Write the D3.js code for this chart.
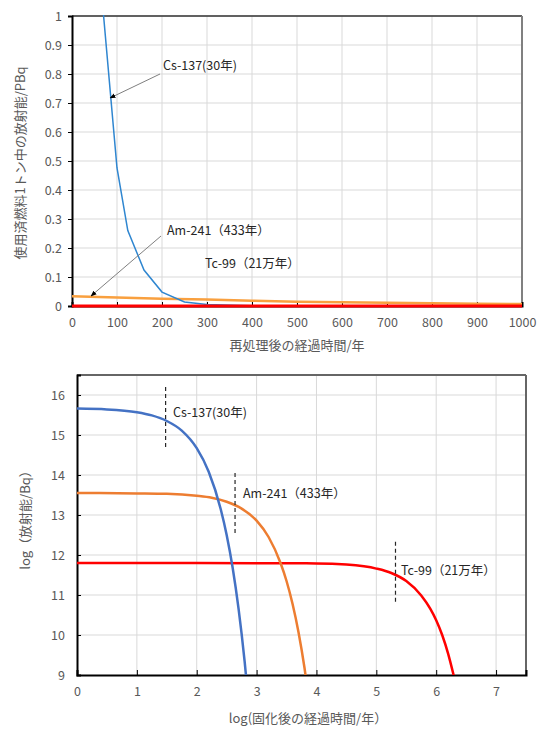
<!DOCTYPE html>
<html>
<head>
<meta charset="utf-8">
<script src="https://cdn.jsdelivr.net/npm/d3@7"></script>
<style>
  body { margin: 0; background: #fff; }
  text { font-family: "Noto Sans CJK JP", "Noto Sans", sans-serif; }
</style>
</head>
<body>
<svg width="544" height="729"></svg>
<script>
// ---- top chart data (linear, PBq per tonne of spent fuel) ----
const topYears   = [0, 100, 200, 300, 400, 500, 600, 700, 800, 900, 1000];
const topCsYears = [0, 30, 60, 100, 124, 160, 200, 250, 300, 400, 500, 700, 1000];
const topCsPBq   = [4.7, 2.35, 1.18, 0.476, 0.26, 0.124, 0.048, 0.014, 0.005, 0.0005, 0.0001, 0, 0];
const topAmPBq   = [0.034, 0.029, 0.025, 0.022, 0.018, 0.015, 0.013, 0.011, 0.0095, 0.008, 0.0068];
const topTcPBq   = [0.0003, 0.0003, 0.0003, 0.0003, 0.0003, 0.0003, 0.0003, 0.0003, 0.0003, 0.0003, 0.0003];
const topYTicks  = [0, 0.1, 0.2, 0.3, 0.4, 0.5, 0.6, 0.7, 0.8, 0.9, 1];

// ---- bottom chart data (log10 time vs log10 Bq) ----
const csLogT = [0, 0.5, 1, 1.25, 1.5, 1.75, 2, 2.2, 2.4, 2.5, 2.6, 2.7, 2.8, 2.85];
const csLogA = [15.66, 15.64, 15.57, 15.49, 15.35, 15.11, 14.67, 14.08, 13.15, 12.5, 11.68, 10.64, 9.34, 8.57];
const amLogT = [0, 1, 1.5, 2, 2.25, 2.5, 2.75, 3, 3.2, 3.4, 3.5, 3.6, 3.7, 3.8, 3.85];
const amLogA = [13.55, 13.54, 13.53, 13.48, 13.43, 13.33, 13.16, 12.86, 12.45, 11.8, 11.35, 10.78, 10.07, 9.18, 8.65];
const tcLogT = [0, 2, 4, 4.5, 5, 5.25, 5.5, 5.75, 5.9, 6, 6.1, 6.2, 6.3];
const tcLogA = [11.8, 11.8, 11.79, 11.76, 11.66, 11.55, 11.35, 10.99, 10.66, 10.37, 10.0, 9.53, 8.94];
const markLogT = [1.48, 2.64, 5.32];   // dashed half-life markers
const markTop  = [16.2, 14.05, 12.33];
const markBot  = [14.7, 12.55, 10.83];

const svg = d3.select("svg");
const grid = "#d9d9d9", txt = "#595959";

// marker for annotation arrows
svg.append("defs").append("marker")
  .attr("id", "arr").attr("viewBox", "0 0 10 10").attr("refX", 9).attr("refY", 5)
  .attr("markerWidth", 6).attr("markerHeight", 6).attr("orient", "auto")
  .append("path").attr("d", "M0,1 L10,5 L0,9 z").attr("fill", "#000");

// ================= top chart =================
const t = { l: 72, r: 522, t: 16, b: 306 };
const tx = d3.scaleLinear().domain([0, 1000]).range([t.l, t.r]);
const ty = d3.scaleLinear().domain([0, 1]).range([t.b, t.t]);

svg.append("clipPath").attr("id", "clipT").append("rect")
  .attr("x", t.l).attr("y", t.t - 1).attr("width", t.r - t.l).attr("height", t.b - t.t + 3);

const gT = svg.append("g");
gT.selectAll(".vg").data(topYears.slice(1, -1)).enter().append("line")
  .attr("x1", d => tx(d)).attr("x2", d => tx(d)).attr("y1", t.t).attr("y2", t.b)
  .attr("stroke", grid);
gT.selectAll(".hg").data(topYTicks.slice(1)).enter().append("line")
  .attr("x1", t.l).attr("x2", t.r).attr("y1", d => ty(d)).attr("y2", d => ty(d))
  .attr("stroke", grid);
gT.append("line").attr("x1", t.l).attr("x2", t.r).attr("y1", t.t).attr("y2", t.t)
  .attr("stroke", "#333").attr("stroke-width", 1.5);
gT.append("line").attr("x1", t.r).attr("x2", t.r).attr("y1", t.t).attr("y2", t.b)
  .attr("stroke", "#808080").attr("stroke-width", 2);

const yAxT = gT.append("g").attr("transform", `translate(${t.l},0)`)
  .call(d3.axisLeft(ty).tickValues(topYTicks).tickSize(4).tickPadding(6).tickFormat(d3.format("~g")));
const xAxT = gT.append("g").attr("transform", `translate(0,${t.b})`)
  .call(d3.axisBottom(tx).tickValues(topYears).tickSize(-4).tickPadding(12).tickFormat(d3.format("d")));
[yAxT, xAxT].forEach(a => {
  a.select(".domain").attr("stroke", "#000").attr("stroke-width", 2);
  a.selectAll(".tick line").attr("stroke", "#000");
  a.selectAll("text").attr("fill", txt).attr("font-size", 12.5);
});

const lineT = (xs, ys) => d3.line().x((d, i) => tx(xs[i])).y(d => ty(d))(ys);
const plotT = gT.append("g").attr("clip-path", "url(#clipT)");
plotT.append("path").attr("d", lineT(topYears, topAmPBq))
  .attr("fill", "none").attr("stroke", "#f9a03f").attr("stroke-width", 2.5);
plotT.append("path").attr("d", lineT(topCsYears, topCsPBq))
  .attr("fill", "none").attr("stroke", "#2f86d0").attr("stroke-width", 1.5);
plotT.append("path").attr("d", lineT(topYears, topTcPBq))
  .attr("fill", "none").attr("stroke", "#ff0000").attr("stroke-width", 3);

gT.append("text").attr("x", 297).attr("y", 350).attr("text-anchor", "middle")
  .attr("fill", txt).attr("font-size", 13).text("再処理後の経過時間/年");
gT.append("text").attr("transform", "translate(25,163) rotate(-90)").attr("text-anchor", "middle")
  .attr("fill", txt).attr("font-size", 13).text("使用済燃料1トン中の放射能/PBq");

// annotations
gT.append("line").attr("x1", 160).attr("y1", 74).attr("x2", 110).attr("y2", 98)
  .attr("stroke", "#7f7f7f").attr("marker-end", "url(#arr)");
gT.append("line").attr("x1", 161).attr("y1", 236).attr("x2", 91).attr("y2", 296)
  .attr("stroke", "#7f7f7f").attr("marker-end", "url(#arr)");
gT.append("text").attr("x", 163).attr("y", 70).attr("font-size", 12.5).attr("fill", "#262626").text("Cs-137(30年)");
gT.append("text").attr("x", 167).attr("y", 235).attr("font-size", 12.5).attr("fill", "#262626").text("Am-241（433年）");
gT.append("text").attr("x", 205).attr("y", 268).attr("font-size", 12.5).attr("fill", "#262626").text("Tc-99（21万年）");

// ================= bottom chart =================
const b = { l: 77, r: 526, t: 375, b: 675 };
const bx = d3.scaleLinear().domain([0, 7.5]).range([b.l, b.r]);
const by = d3.scaleLinear().domain([9, 16.5]).range([b.b, b.t]);
const bxTicks = [0, 1, 2, 3, 4, 5, 6, 7];
const byTicks = [9, 10, 11, 12, 13, 14, 15, 16];

svg.append("clipPath").attr("id", "clipB").append("rect")
  .attr("x", b.l).attr("y", b.t).attr("width", b.r - b.l).attr("height", b.b - b.t);

const gB = svg.append("g");
gB.selectAll(".vg").data(bxTicks.slice(1)).enter().append("line")
  .attr("x1", d => bx(d)).attr("x2", d => bx(d)).attr("y1", b.t).attr("y2", b.b)
  .attr("stroke", grid);
gB.selectAll(".hg").data(byTicks.slice(1)).enter().append("line")
  .attr("x1", b.l).attr("x2", b.r).attr("y1", d => by(d)).attr("y2", d => by(d))
  .attr("stroke", grid);
gB.append("line").attr("x1", b.l).attr("x2", b.r).attr("y1", b.t).attr("y2", b.t)
  .attr("stroke", "#666").attr("stroke-width", 2);
gB.append("line").attr("x1", b.r).attr("x2", b.r).attr("y1", b.t).attr("y2", b.b)
  .attr("stroke", "#666").attr("stroke-width", 2);

const yAxB = gB.append("g").attr("transform", `translate(${b.l},0)`)
  .call(d3.axisLeft(by).tickValues(byTicks).tickSize(-4).tickPadding(12));
const xAxB = gB.append("g").attr("transform", `translate(0,${b.b})`)
  .call(d3.axisBottom(bx).tickValues(bxTicks).tickSize(-5).tickPadding(12));
[yAxB, xAxB].forEach(a => {
  a.select(".domain").attr("stroke", "#000").attr("stroke-width", 2);
  a.selectAll(".tick line").attr("stroke", "#000");
  a.selectAll("text").attr("fill", txt).attr("font-size", 12.5);
});

const lineB = (xs, ys) => d3.line().curve(d3.curveMonotoneX).x((d, i) => bx(xs[i])).y(d => by(d))(ys);
const plotB = gB.append("g").attr("clip-path", "url(#clipB)");
plotB.append("path").attr("d", lineB(tcLogT, tcLogA))
  .attr("fill", "none").attr("stroke", "#ff0000").attr("stroke-width", 2.5);
plotB.append("path").attr("d", lineB(amLogT, amLogA))
  .attr("fill", "none").attr("stroke", "#ed7d31").attr("stroke-width", 2.5);
plotB.append("path").attr("d", lineB(csLogT, csLogA))
  .attr("fill", "none").attr("stroke", "#4472c4").attr("stroke-width", 2.5);

// dashed markers
gB.selectAll(".mk").data(markLogT).enter().append("line")
  .attr("x1", d => bx(d)).attr("x2", d => bx(d))
  .attr("y1", (d, i) => by(markTop[i])).attr("y2", (d, i) => by(markBot[i]))
  .attr("stroke", "#262626").attr("stroke-width", 1.2).attr("stroke-dasharray", "4,3");

gB.append("text").attr("x", 173).attr("y", 417).attr("font-size", 12.5).attr("fill", "#262626").text("Cs-137(30年)");
gB.append("text").attr("x", 243).attr("y", 498).attr("font-size", 12.5).attr("fill", "#262626").text("Am-241（433年）");
gB.append("text").attr("x", 401).attr("y", 575).attr("font-size", 12.5).attr("fill", "#262626").text("Tc-99（21万年）");

gB.append("text").attr("x", 308).attr("y", 723).attr("text-anchor", "middle")
  .attr("fill", txt).attr("font-size", 13).text("log(固化後の経過時間/年）");
gB.append("text").attr("transform", "translate(30,517) rotate(-90)").attr("text-anchor", "middle")
  .attr("fill", txt).attr("font-size", 13).text("log（放射能/Bq）");
</script>
</body>
</html>
